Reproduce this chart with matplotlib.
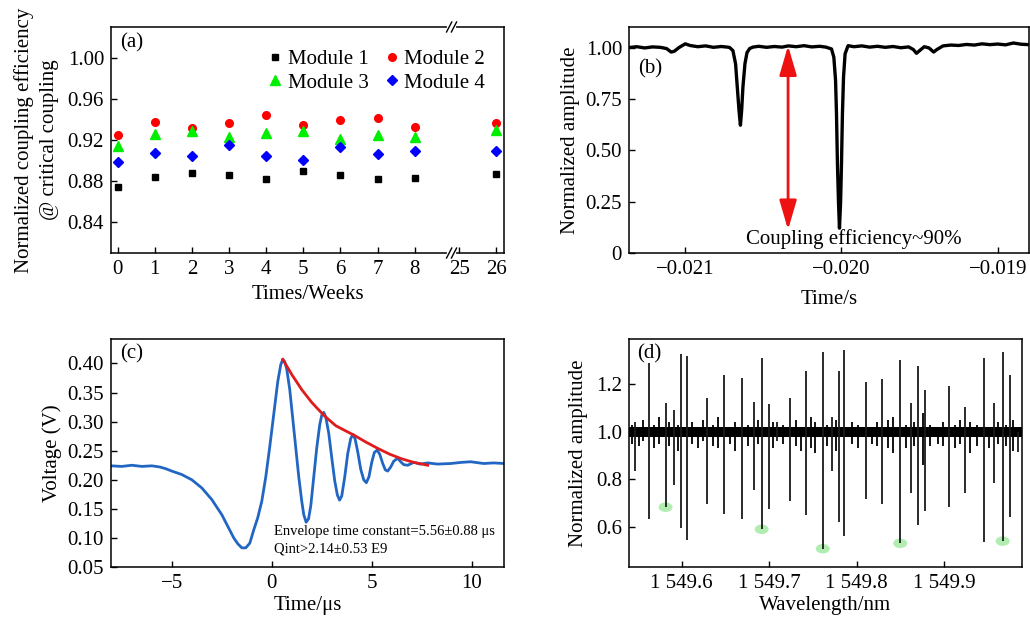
import numpy as np
import matplotlib
matplotlib.use("Agg")
import matplotlib.pyplot as plt
from matplotlib.patches import Ellipse
from matplotlib.transforms import blended_transform_factory

plt.rcParams['font.family'] = ['Liberation Serif', 'DejaVu Serif']
plt.rcParams['font.size'] = 15
plt.rcParams['axes.linewidth'] = 1.1

# ---- (a) coupling efficiency over time ----
weeks = [0, 1, 2, 3, 4, 5, 6, 7, 8, 26]
week_ticks = [0, 1, 2, 3, 4, 5, 6, 7, 8, 25, 26]
module1 = [0.874, 0.884, 0.888, 0.886, 0.882, 0.890, 0.886, 0.882, 0.883, 0.887]
module2 = [0.925, 0.938, 0.932, 0.937, 0.944, 0.935, 0.939, 0.941, 0.933, 0.937]
module3 = [0.914, 0.926, 0.929, 0.923, 0.927, 0.929, 0.921, 0.925, 0.923, 0.930]
module4 = [0.899, 0.907, 0.904, 0.915, 0.904, 0.901, 0.913, 0.906, 0.909, 0.909]

# ---- (b) transmission dips ----
b_time = [-0.02136, -0.02131, -0.02126, -0.02121, -0.02116, -0.02112, -0.02109,
          -0.02107, -0.02104, -0.02100, -0.02097, -0.02092, -0.02087, -0.02082,
          -0.02077, -0.02073,
          -0.020716, -0.020695, -0.020678, -0.020667, -0.020656, -0.020647,
          -0.020639, -0.020631, -0.020618, -0.020605, -0.020588, -0.020567,
          -0.02053, -0.02048, -0.02043, -0.02038, -0.02034, -0.02029, -0.02024,
          -0.02019, -0.02014, -0.02010,
          -0.020064, -0.020049, -0.020038, -0.020032, -0.020026, -0.020019,
          -0.020013, -0.020006, -0.020000, -0.019994, -0.019987, -0.019977,
          -0.019958,
          -0.01992, -0.01987, -0.01982, -0.01977, -0.01972, -0.01967, -0.01962,
          -0.01957, -0.01954, -0.01952, -0.01950, -0.01947, -0.01944, -0.01941,
          -0.01939, -0.01935, -0.01930, -0.01925, -0.01920, -0.01915, -0.01910,
          -0.01905, -0.01900, -0.01895, -0.01890, -0.01885, -0.01880]
b_amp = [1.000, 1.004, 0.998, 1.003, 1.001, 0.995, 0.978,
         0.982, 1.000, 1.018, 1.010, 1.004, 1.008, 1.001,
         1.005, 1.002,
         1.000, 0.985, 0.921, 0.807, 0.694, 0.622,
         0.694, 0.807, 0.921, 0.975, 0.995, 1.002,
         1.006, 1.001, 1.005, 1.002, 1.008, 1.004, 1.009,
         1.003, 1.006, 1.002,
         0.993, 0.953, 0.840, 0.678, 0.436, 0.242,
         0.121, 0.242, 0.436, 0.678, 0.856, 0.969,
         1.009,
         1.004, 1.008, 1.002, 1.006, 1.001, 1.005, 0.999,
         1.003, 0.990, 0.972, 0.985, 1.004, 0.998, 0.978,
         0.990, 1.008, 1.012, 1.010, 1.015, 1.012, 1.018,
         1.014, 1.017, 1.013, 1.022, 1.016, 1.014]
arrow_time = -0.020342
arrow_top, arrow_bottom = 1.009, 0.113

# ---- (c) ring-down trace ----
c_time = [-8.04, -7.5, -7.0, -6.5, -6.0, -5.6, -5.3, -5.0, -4.5, -4.0, -3.5,
          -3.0, -2.5, -2.2, -1.9, -1.7, -1.5, -1.3, -1.1, -0.9, -0.7, -0.5,
          -0.3, -0.1, 0.1, 0.3, 0.45, 0.55, 0.65, 0.75, 0.9, 1.05, 1.2, 1.35,
          1.5, 1.6, 1.72, 1.84, 1.95, 2.1, 2.25, 2.4, 2.5, 2.6, 2.7, 2.85,
          3.0, 3.15, 3.28, 3.39, 3.5, 3.65, 3.8, 3.95, 4.06, 4.17, 4.3, 4.45,
          4.6, 4.73, 4.86, 5.0, 5.13, 5.27, 5.4, 5.55, 5.68, 5.8, 5.95, 6.1,
          6.3, 6.45, 6.6, 6.8, 7.1, 7.43, 7.8, 8.3, 8.95, 9.5, 9.95, 10.6,
          11.1, 11.62]
c_volt = [0.224, 0.223, 0.225, 0.223, 0.224, 0.222, 0.219, 0.215, 0.209,
          0.200, 0.186, 0.166, 0.140, 0.120, 0.100, 0.090, 0.083, 0.083,
          0.091, 0.114, 0.135, 0.163, 0.205, 0.257, 0.313, 0.369, 0.398,
          0.407, 0.403, 0.390, 0.355, 0.305, 0.255, 0.205, 0.163, 0.140,
          0.127, 0.133, 0.155, 0.205, 0.255, 0.295, 0.311, 0.316, 0.308,
          0.280, 0.238, 0.198, 0.174, 0.165, 0.172, 0.205, 0.245, 0.271,
          0.278, 0.270, 0.248, 0.218, 0.200, 0.195, 0.205, 0.230, 0.247,
          0.251, 0.244, 0.228, 0.217, 0.215, 0.222, 0.232, 0.237, 0.231,
          0.226, 0.225, 0.230, 0.227, 0.229, 0.227, 0.228, 0.230, 0.231,
          0.228, 0.229, 0.228]
env_time = [0.55, 1.0, 1.5, 2.0, 2.6, 3.2, 3.7, 4.1, 4.7, 5.3, 5.9, 6.5, 7.1, 7.8]
env_volt = [0.407, 0.381, 0.355, 0.333, 0.311, 0.293, 0.284, 0.277, 0.265,
            0.254, 0.244, 0.236, 0.230, 0.225]

# ---- (d) transmission spectrum ----
d_lam = [1549.5466, 1549.5626, 1549.5817, 1549.5915, 1549.5992, 1549.6057,
         1549.6293, 1549.6481, 1549.6694, 1549.6824, 1549.6915, 1549.6999,
         1549.7090, 1549.7239, 1549.7419, 1549.7613, 1549.7720, 1549.7800,
         1549.7860, 1549.8105, 1549.8288, 1549.8498, 1549.8616, 1549.8700,
         1549.8780, 1549.9050, 1549.9234, 1549.9459, 1549.9573, 1549.9668,
         1549.9748, 1549.9844]
d_top = [1.04, 1.288, 1.122, 1.093, 1.326, 1.320, 1.141, 1.239, 1.228, 1.126,
         1.312, 1.115, 1.040, 1.141, 1.256, 1.337, 1.063, 1.256, 1.344, 1.208,
         1.222, 1.302, 1.122, 1.278, 1.176, 1.193, 1.105, 1.309, 1.122, 1.337,
         1.239, 1.000]
d_bot = [0.834, 0.632, 0.682, 0.775, 0.595, 0.544, 0.694, 0.653, 0.631, 0.754,
         0.589, 0.673, 0.960, 0.709, 0.649, 0.507, 0.834, 0.621, 0.561, 0.715,
         0.694, 0.530, 0.740, 0.607, 0.667, 0.684, 0.740, 0.536, 0.782, 0.539,
         0.642, 0.916]
noise_lam = [1549.543, 1549.551, 1549.556, 1549.568, 1549.574, 1549.586,
             1549.596, 1549.612, 1549.619, 1549.624, 1549.636, 1549.642,
             1549.655, 1549.661, 1549.676, 1549.687, 1549.705, 1549.716,
             1549.731, 1549.737, 1549.748, 1549.753, 1549.766, 1549.776,
             1549.795, 1549.802, 1549.818, 1549.823, 1549.836, 1549.842,
             1549.856, 1549.866, 1549.876, 1549.884, 1549.893, 1549.899,
             1549.912, 1549.918, 1549.930, 1549.937, 1549.951, 1549.962,
             1549.971, 1549.979]
noise_top = [1.03, 1.02, 1.05, 1.03, 1.06, 1.04, 1.03, 1.04, 1.02, 1.05, 1.03,
             1.06, 1.02, 1.04, 1.03, 1.05, 1.04, 1.03, 1.05, 1.02, 1.06, 1.04,
             1.03, 1.05, 1.04, 1.03, 1.02, 1.04, 1.05, 1.06, 1.03, 1.04, 1.08,
             1.03, 1.02, 1.04, 1.03, 1.05, 1.04, 1.03, 1.02, 1.04, 1.03, 1.05]
noise_bot = [0.95, 0.94, 0.96, 0.93, 0.95, 0.94, 0.92, 0.95, 0.93, 0.96, 0.94,
             0.93, 0.95, 0.92, 0.94, 0.95, 0.93, 0.95, 0.94, 0.92, 0.93, 0.91,
             0.94, 0.92, 0.95, 0.93, 0.95, 0.94, 0.93, 0.91, 0.93, 0.94, 0.86,
             0.94, 0.95, 0.94, 0.93, 0.95, 0.91, 0.94, 0.93, 0.95, 0.94, 0.92]
mark_lam = [1549.5817, 1549.6915, 1549.7613, 1549.8498, 1549.9668]
mark_amp = [0.682, 0.589, 0.507, 0.530, 0.539]


def week_pos(w):
    # weeks after the break are shifted left so 25 sits just past 8
    return w if w <= 8 else w - 25 + 9.2


def style_axes(ax):
    ax.tick_params(direction='in', length=4, width=1, labelsize=15, pad=5)
    for s in ax.spines.values():
        s.set_linewidth(1.1)


fig = plt.figure(figsize=(10.3, 6.26), dpi=100)

# (a)
ax1 = fig.add_axes([0.1078, 0.5958, 0.3816, 0.3611])
xp = [week_pos(w) for w in weeks]
h1, = ax1.plot(xp, module1, 's', color='black', ms=5, label='Module 1')
h2, = ax1.plot(xp, module2, 'o', color='red', ms=5.5, label='Module 2')
h3, = ax1.plot(xp, module3, '^', color='#00ee00', ms=7, label='Module 3')
h4, = ax1.plot(xp, module4, 'D', color='blue', ms=5, label='Module 4')
ax1.set_xlim(-0.18, 10.41)
ax1.set_ylim(0.81, 1.03)
ax1.set_xticks([week_pos(w) for w in week_ticks])
ax1.set_xticklabels([str(w) for w in week_ticks])
ax1.set_yticks([0.84, 0.88, 0.92, 0.96, 1.00])
ax1.set_yticklabels(['0.84', '0.88', '0.92', '0.96', '1.00'])
ax1.set_xlabel('Times/Weeks', labelpad=4)
ax1.set_ylabel('Normalized coupling efficiency\n@ critical coupling',
               linespacing=1.45, labelpad=6)
style_axes(ax1)
# column-wise fill, so order the handles to read row by row
ax1.legend([h1, h3, h2, h4], ['Module 1', 'Module 3', 'Module 2', 'Module 4'],
           ncol=2, frameon=False, loc='upper right',
           bbox_to_anchor=(0.978, 0.945), handlelength=0.6, handletextpad=0.3,
           columnspacing=0.8, labelspacing=0.18, borderpad=0, fontsize=15)
ax1.text(0.023, 0.93, '(a)', transform=ax1.transAxes, va='center', ha='left')

# axis break marks on top and bottom spines
trans = blended_transform_factory(ax1.transData, ax1.transAxes)
for yb in (0.0, 1.0):
    ax1.plot([8.93, 9.06], [yb, yb], color='white', lw=3, transform=trans,
             clip_on=False, zorder=5)
    for xb in (8.93, 9.06):
        ax1.plot([xb - 0.07, xb + 0.07], [yb - 0.022, yb + 0.022], color='black',
                 lw=1, transform=trans, clip_on=False, zorder=6)

# (b)
ax2 = fig.add_axes([0.6107, 0.5958, 0.3883, 0.3611])
ax2.plot(b_time, b_amp, color='black', lw=2.4)
ax2.annotate('', xy=(arrow_time, arrow_bottom), xytext=(arrow_time, arrow_top),
             arrowprops=dict(arrowstyle='<|-|>,head_length=1.2,head_width=0.35',
                             color='#ee1111', lw=2, shrinkA=0, shrinkB=0))
ax2.text(-0.020609, 0.068, 'Coupling efficiency~90%', va='center', ha='left',
         fontsize=15)
ax2.set_xlim(-0.02136, -0.0188)
ax2.set_ylim(0, 1.1)
ax2.set_xticks([-0.021, -0.020, -0.019])
ax2.set_xticklabels(['\u22120.021', '\u22120.020', '\u22120.019'])
ax2.set_yticks([0, 0.25, 0.5, 0.75, 1.0])
ax2.set_yticklabels(['0', '0.25', '0.50', '0.75', '1.00'])
ax2.set_xlabel('Time/s', labelpad=8)
ax2.set_ylabel('Normalized amplitude', labelpad=4)
style_axes(ax2)
ax2.text(0.023, 0.816, '(b)', transform=ax2.transAxes, va='center', ha='left')

# (c)
ax3 = fig.add_axes([0.1078, 0.0942, 0.3816, 0.3642])
ax3.plot(c_time, c_volt, color='#2266c4', lw=2.0)
ax3.plot(env_time, env_volt, color='#e01b1b', lw=2.0)
ax3.text(0.415, 0.158, 'Envelope time constant=5.56\u00b10.88 \u03bcs',
         transform=ax3.transAxes, fontsize=10.5, va='center', ha='left')
ax3.text(0.415, 0.078, 'Qint>2.14\u00b10.53 E9',
         transform=ax3.transAxes, fontsize=10.5, va='center', ha='left')
ax3.set_xlim(-8.04, 11.62)
ax3.set_ylim(0.05, 0.442)
ax3.set_xticks([-5, 0, 5, 10])
ax3.set_xticklabels(['\u22125', '0', '5', '10'])
ax3.set_yticks([0.05, 0.10, 0.15, 0.20, 0.25, 0.30, 0.35, 0.40])
ax3.set_yticklabels(['0.05', '0.10', '0.15', '0.20', '0.25', '0.30', '0.35', '0.40'])
ax3.set_xlabel('Time/\u03bcs', labelpad=2)
ax3.set_ylabel('Voltage (V)', labelpad=4)
style_axes(ax3)
ax3.text(0.023, 0.937, '(c)', transform=ax3.transAxes, va='center', ha='left')

# (d)
ax4 = fig.add_axes([0.6107, 0.0942, 0.3816, 0.3642])
for lam, amp in zip(mark_lam, mark_amp):
    ax4.add_patch(Ellipse((lam, amp), 0.016, 0.04, color='#7ee07e',
                          alpha=0.6, lw=0, zorder=1))
ax4.fill_between([1549.540, 1549.989], 0.977, 1.018, color='black', lw=0, zorder=2)
ax4.vlines(noise_lam, noise_bot, noise_top, color='black', lw=1.3, zorder=2)
ax4.vlines(d_lam, d_bot, d_top, color='#1a1a1a', lw=1.3, zorder=3)
ax4.set_xlim(1549.540, 1549.989)
ax4.set_ylim(0.43, 1.39)
ax4.set_xticks([1549.6, 1549.7, 1549.8, 1549.9])
ax4.set_xticklabels(['1 549.6', '1 549.7', '1 549.8', '1 549.9'])
ax4.set_yticks([0.6, 0.8, 1.0, 1.2])
ax4.set_yticklabels(['0.6', '0.8', '1.0', '1.2'])
ax4.set_xlabel('Wavelength/nm', labelpad=2)
ax4.set_ylabel('Normalized amplitude', labelpad=6)
style_axes(ax4)
ax4.text(0.02, 0.937, '(d)', transform=ax4.transAxes, va='center', ha='left')

fig.savefig('out.png', dpi=100)
